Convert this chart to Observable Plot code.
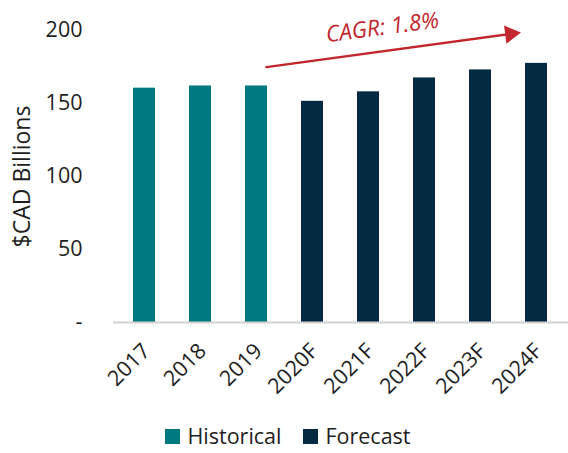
<!DOCTYPE html>
<html>
<head>
<meta charset="utf-8">
<script src="https://cdn.jsdelivr.net/npm/d3@7"></script>
<script src="https://cdn.jsdelivr.net/npm/@observablehq/plot@0.6"></script>
<style>
  html, body { margin: 0; padding: 0; background: #fff; overflow: hidden; }
  body { width: 568px; height: 453px; font-family: "Open Sans", sans-serif; color: #1e1e1e; }
  #chart svg { display: block; }
  #legend { display: flex; justify-content: center; gap: 22px; margin-top: 23px; font-size: 21.5px; padding-left: 8px; line-height: 26px; }
  .item { display: flex; align-items: center; gap: 7px; }
  .sw { width: 15px; height: 15px; display: inline-block; }
</style>
</head>
<body>
<div id="chart"></div>
<div id="legend"></div>
<script>
const categories = ["2017", "2018", "2019", "2020F", "2021F", "2022F", "2023F", "2024F"];
const values = [160.5, 162, 162, 151.5, 158, 167.5, 173, 177.5];
const types = ["Historical", "Historical", "Historical", "Forecast", "Forecast", "Forecast", "Forecast", "Forecast"];
const seriesNames = ["Historical", "Forecast"];
const seriesColors = ["#007880", "#032A40"];
const yTicks = [0, 50, 100, 150, 200];
const yTitle = "$CAD Billions";
const cagrLabel = "CAGR: 1.8%";
const arrowFrom = {x: "2019", y: 174};
const arrowTo = {x: "2024F", y: 200};
const labelAt = {x: "2021F", y: 202};

const data = categories.map((c, i) => ({cat: c, value: values[i], type: types[i]}));
const red = "#C1272D";

const chart = Plot.plot({
  width: 568,
  height: 400,
  marginLeft: 113,
  marginRight: 0,
  marginTop: 30,
  marginBottom: 78,
  style: {fontFamily: "Open Sans, sans-serif", color: "#1e1e1e", background: "#fff", overflow: "visible"},
  x: {domain: categories, paddingInner: 0.6, paddingOuter: 0.3, label: null},
  y: {domain: [0, 200], label: null},
  color: {domain: seriesNames, range: seriesColors},
  marks: [
    Plot.barY(data, {x: "cat", y: "value", fill: "type"}),
    Plot.ruleY([0], {stroke: "#d0d0d0", strokeWidth: 2}),
    Plot.axisY({
      ticks: yTicks, tickSize: 0, tickPadding: 31, fontSize: 21.5,
      tickFormat: d => d === 0 ? "-" : String(d),
      label: null
    }),
    Plot.text([yTitle], {
      frameAnchor: "left", text: d => d, rotate: -90, dx: -91, fontSize: 23, fill: "#1e1e1e",
      textAnchor: "middle", lineAnchor: "middle"
    }),
    Plot.axisX({tickSize: 0, tickRotate: -45, tickPadding: 25, fontSize: 21.5, label: null, dx: 2}),
    Plot.arrow([{x1: arrowFrom.x, y1: arrowFrom.y, x2: arrowTo.x, y2: arrowTo.y}], {
      x1: "x1", y1: "y1", x2: "x2", y2: "y2",
      stroke: red, strokeWidth: 2.5, headLength: 0, insetStart: 10, insetEnd: 26
    }),
    Plot.dot([{x: arrowTo.x, y: 197.6}], {
      x: "x", y: "y", symbol: "triangle", r: 6.8, fill: red, stroke: "none", rotate: 82.5, dx: -26
    }),
    Plot.text([{x: labelAt.x, y: labelAt.y, t: cagrLabel}], {
      x: "x", y: "y", text: "t", fill: red, fontSize: 22.5, fontStyle: "italic", rotate: -7.5, dx: 14
    })
  ]
});
document.getElementById("chart").append(chart);

const legend = document.getElementById("legend");
seriesNames.forEach((n, i) => {
  const it = document.createElement("div");
  it.className = "item";
  it.innerHTML = `<span class="sw" style="background:${seriesColors[i]}"></span><span>${n}</span>`;
  legend.append(it);
});
</script>
</body>
</html>
